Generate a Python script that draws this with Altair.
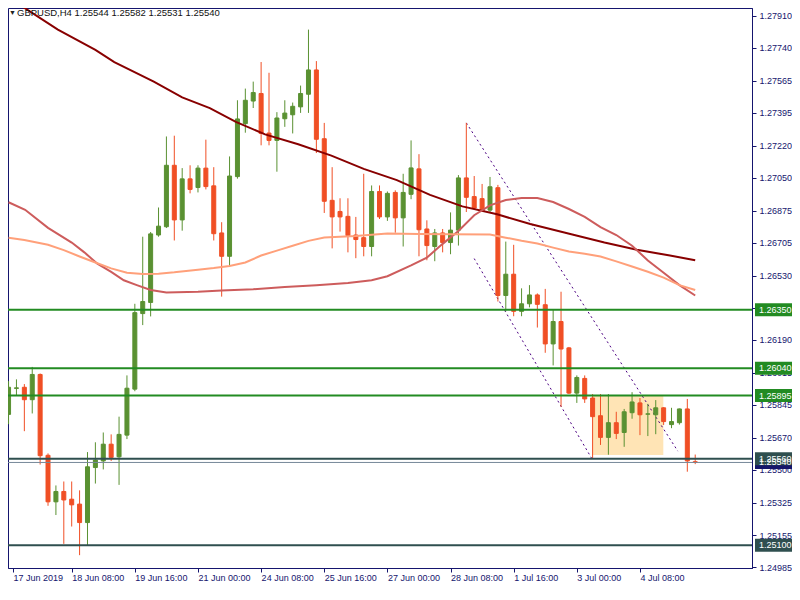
import altair as alt
import pandas as pd

# ---------------- data ----------------
bar_index = list(range(88))  # H4 bars, 0 = 17 Jun 2019 00:00
opens = [1.25795, 1.25933, 1.25939, 1.25873, 1.26007, 1.25578, 1.25331, 1.25386, 1.25345, 1.25319,
         1.25221, 1.25513, 1.25548, 1.25637, 1.25570, 1.25685, 1.25929, 1.26330, 1.26389, 1.26747,
         1.26791, 1.27117, 1.26827, 1.27045, 1.26999, 1.27102, 1.27008, 1.26758, 1.26634, 1.27057,
         1.27338, 1.27458, 1.27498, 1.27288, 1.27249, 1.27364, 1.27385, 1.27427, 1.27494, 1.27623,
         1.27258, 1.26931, 1.26872, 1.26846, 1.26747, 1.26733, 1.26686, 1.26978, 1.26843, 1.26973,
         1.26838, 1.26963, 1.27098, 1.26779, 1.26686, 1.26758, 1.26707, 1.26773, 1.27050, 1.26951,
         1.26940, 1.26879, 1.26998, 1.26426, 1.26539, 1.26342, 1.26382, 1.26429, 1.26377, 1.26169,
         1.26288, 1.26148, 1.25908, 1.25986, 1.25882, 1.25788, 1.25673, 1.25751, 1.25699, 1.25804,
         1.25856, 1.25796, 1.25793, 1.25830, 1.25741, 1.25751, 1.25824, 1.25544]
highs = [1.25972, 1.25981, 1.25956, 1.26047, 1.26012, 1.25588, 1.25418, 1.25439, 1.25439, 1.25392,
         1.25595, 1.25647, 1.25699, 1.25689, 1.25783, 1.26002, 1.26382, 1.26738, 1.26763, 1.26893,
         1.27270, 1.27274, 1.27102, 1.27117, 1.27117, 1.27253, 1.27107, 1.26815, 1.27164, 1.27462,
         1.27524, 1.27561, 1.27665, 1.27608, 1.27399, 1.27462, 1.27450, 1.27540, 1.27837, 1.27670,
         1.27342, 1.27107, 1.26942, 1.26942, 1.26843, 1.27072, 1.27010, 1.27010, 1.26978, 1.26984,
         1.27072, 1.27249, 1.27176, 1.26825, 1.26779, 1.26779, 1.26867, 1.27065, 1.27342, 1.27060,
         1.27018, 1.27055, 1.27013, 1.26712, 1.26695, 1.26464, 1.26481, 1.26437, 1.26461, 1.26354,
         1.26446, 1.26153, 1.26002, 1.26002, 1.25903, 1.25903, 1.25903, 1.25809, 1.25824, 1.25913,
         1.25882, 1.25851, 1.25871, 1.25833, 1.25830, 1.25826, 1.25877, 1.25582]
lows = [1.25743, 1.25894, 1.25706, 1.25800, 1.25529, 1.25310, 1.25261, 1.25108, 1.25200, 1.25048,
        1.25100, 1.25428, 1.25503, 1.25548, 1.25421, 1.25664, 1.25918, 1.26269, 1.26315, 1.26738,
        1.26784, 1.26718, 1.26770, 1.26968, 1.26973, 1.26989, 1.26718, 1.26420, 1.26582, 1.27046,
        1.27290, 1.27421, 1.27223, 1.27223, 1.27083, 1.27321, 1.27286, 1.27395, 1.27395, 1.27182,
        1.26864, 1.26676, 1.26765, 1.26655, 1.26624, 1.26634, 1.26634, 1.26832, 1.26822, 1.26759,
        1.26686, 1.26937, 1.26634, 1.26613, 1.26608, 1.26655, 1.26645, 1.26691, 1.26869, 1.26884,
        1.26869, 1.26869, 1.26394, 1.26342, 1.26316, 1.26316, 1.26363, 1.26256, 1.26122, 1.26055,
        1.25835, 1.25903, 1.25856, 1.25856, 1.25560, 1.25633, 1.25581, 1.25664, 1.25623, 1.25772,
        1.25685, 1.25680, 1.25690, 1.25739, 1.25722, 1.25741, 1.25491, 1.25531]
closes = [1.25939, 1.25936, 1.25873, 1.26007, 1.25576, 1.25331, 1.25386, 1.25341, 1.25315, 1.25221,
          1.25517, 1.25553, 1.25637, 1.25567, 1.25689, 1.25934, 1.26335, 1.26394, 1.26753, 1.26794,
          1.27117, 1.26827, 1.27045, 1.26989, 1.27102, 1.27004, 1.26754, 1.26634, 1.27060, 1.27363,
          1.27462, 1.27503, 1.27286, 1.27249, 1.27368, 1.27394, 1.27430, 1.27498, 1.27623, 1.27255,
          1.26926, 1.26843, 1.26843, 1.26744, 1.26723, 1.26686, 1.26978, 1.26843, 1.26968, 1.26838,
          1.26973, 1.27103, 1.26775, 1.26691, 1.26758, 1.26707, 1.26773, 1.27050, 1.26947, 1.26890,
          1.26874, 1.27003, 1.26426, 1.26539, 1.26342, 1.26382, 1.26429, 1.26379, 1.26169, 1.26288,
          1.26142, 1.25908, 1.25991, 1.25877, 1.25783, 1.25673, 1.25751, 1.25694, 1.25809, 1.25861,
          1.25793, 1.25798, 1.25830, 1.25757, 1.25757, 1.25824, 1.25548, 1.25540]

# x-axis: one label every 8 bars
tick_bars = [0, 8, 16, 24, 32, 40, 48, 56, 64, 72, 80]
tick_labels = ["17 Jun 2019", "18 Jun 08:00", "19 Jun 16:00", "21 Jun 00:00", "24 Jun 08:00",
               "25 Jun 16:00", "27 Jun 00:00", "28 Jun 08:00", "1 Jul 16:00", "3 Jul 00:00",
               "4 Jul 08:00"]
# y-axis ticks
price_ticks = [1.27910, 1.27740, 1.27565, 1.27395, 1.27220, 1.27050, 1.26875, 1.26705, 1.26530,
               1.26360, 1.26190, 1.26015, 1.25845, 1.25670, 1.25500, 1.25325, 1.25155, 1.24985]

# moving averages (bar index, price)
ma_slow_idx = [0, 1.25, 6.25, 11, 13.4, 18.4, 22, 25.5, 28.8, 32.5, 36.7, 40.9, 45, 49.2, 53.4,
               57.5, 61.9, 66.1, 71.3, 75.5, 79.6, 83.8, 87]
ma_slow_val = [1.28004, 1.27973, 1.27837, 1.27729, 1.27665, 1.27561, 1.27477, 1.27420, 1.27347,
               1.27281, 1.27229, 1.27168, 1.27098, 1.27038, 1.26960, 1.26899, 1.26857, 1.26805,
               1.26751, 1.26707, 1.26669, 1.26638, 1.26613]
ma_mid_idx = [0, 2.1, 5, 8, 9.6, 11.25, 13, 14.6, 16.25, 18, 20, 24, 27, 31, 35, 39, 43, 46, 48,
              51, 53, 55, 57, 59, 61, 63, 65, 67, 69, 71, 73, 75, 77, 79, 81, 83, 85, 87]
ma_mid_val = [1.26921, 1.26881, 1.26785, 1.26707, 1.26655, 1.26595, 1.26551, 1.26507, 1.26481,
              1.26455, 1.26442, 1.26446, 1.26453, 1.26459, 1.26471, 1.26481, 1.26492, 1.26507,
              1.26528, 1.26586, 1.26627, 1.26700, 1.26768, 1.26852, 1.26904, 1.26933, 1.26944,
              1.26943, 1.26922, 1.26885, 1.26843, 1.26789, 1.26747, 1.26690, 1.26612, 1.26547,
              1.26481, 1.26426]
ma_fast_idx = [0, 2, 5, 7, 9, 11, 13, 15, 17, 19, 21, 24, 26, 28, 30, 32, 34, 36, 38, 40, 44, 48,
               52, 56, 61, 63, 65, 67, 69, 71, 73, 75, 77, 79, 81, 83, 85, 87]
ma_fast_val = [1.26733, 1.26721, 1.26695, 1.26667, 1.26633, 1.26601, 1.26570, 1.26547, 1.26540,
               1.26542, 1.26549, 1.26563, 1.26572, 1.26583, 1.26601, 1.26638, 1.26664, 1.26690,
               1.26716, 1.26734, 1.26742, 1.26755, 1.26753, 1.26751, 1.26750, 1.26733, 1.26716,
               1.26702, 1.26680, 1.26659, 1.26648, 1.26633, 1.26607, 1.26580, 1.26552, 1.26521,
               1.26481, 1.26455]

# horizontal levels
level_values = [1.26350, 1.26040, 1.25895, 1.25560, 1.25100]
level_kinds = ["green", "green", "green", "slate", "slate"]
bid_price = 1.25540

# trend channel (dotted)
trend_names = ["upper", "upper", "lower", "lower"]
trend_idx = [58, 84.8, 59, 73.85]
trend_val = [1.27342, 1.25600, 1.26622, 1.25564]

# consolidation rectangle
rect_idx = [73.96, 82.96]
rect_val = [1.25895, 1.25580]

header = "GBPUSD,H4  1.25544 1.25582 1.25531 1.25540"

# ---------------- styling ----------------
UP, DOWN = "#5A9132", "#F04F25"
NAVY = "#15156E"
FONT = "Liberation Sans"
FS = 9
KIND_COLORS = {"green": "#228B22", "slate": "#2F4F4F", "bid": "#16166A"}
W, H = 744, 560

XS = alt.Scale(domain=[0.5625, 93.5625], nice=False, zero=False)
YS = alt.Scale(domain=[1.249799, 1.279517], nice=False, zero=False)

label_arr = "[" + ",".join("'%s'" % t for t in tick_labels) + "]"
X_AXIS = alt.Axis(values=[0.5625] + tick_bars[1:], labelExpr=label_arr + "[round(datum.value / 8)]",
                  orient="bottom", grid=False, domainColor=NAVY, tickColor=NAVY, tickSize=4,
                  labelAlign="left", labelBaseline="top", labelPadding=1, labelFont=FONT,
                  labelFontSize=FS, labelColor=NAVY, labelFlush=False, labelOverlap=False,
                  title=None)
Y_AXIS = alt.Axis(values=price_ticks, format=".5f", orient="right", grid=False, domainColor=NAVY,
                  tickColor=NAVY, tickSize=4, labelPadding=3, labelBaseline="middle",
                  labelFont=FONT, labelFontSize=FS, labelColor=NAVY, labelFlush=False,
                  labelOverlap=False, title=None)


def X(field):
    return alt.X(field, type="quantitative", scale=XS, axis=X_AXIS, title=None)


def Y(field):
    return alt.Y(field, type="quantitative", scale=YS, axis=Y_AXIS, title=None)


candles = pd.DataFrame({"i": bar_index, "open": opens, "high": highs, "low": lows, "close": closes})
candles["dir"] = ["up" if c >= o else "down" for o, c in zip(opens, closes)]
dir_scale = alt.Scale(domain=["up", "down"], range=[UP, DOWN])

mas = pd.concat([
    pd.DataFrame({"i": ma_slow_idx, "v": ma_slow_val, "col": "#880000"}),
    pd.DataFrame({"i": ma_mid_idx, "v": ma_mid_val, "col": "#CD5C5C"}),
    pd.DataFrame({"i": ma_fast_idx, "v": ma_fast_val, "col": "#FFA07A"}),
])
levels = pd.DataFrame({"v": level_values, "col": [KIND_COLORS[k] for k in level_kinds]})
bid = pd.DataFrame({"v": [bid_price]})
boxes = pd.DataFrame({"v": [bid_price] + level_values,
                      "col": [KIND_COLORS["bid"]] + [KIND_COLORS[k] for k in level_kinds]})
boxes["txt"] = ["%.5f" % v for v in boxes["v"]]
trend = pd.DataFrame({"name": trend_names, "i": trend_idx, "v": trend_val})
rect = pd.DataFrame({"i": [rect_idx[0]], "i2": [rect_idx[1]], "v": [rect_val[0]], "v2": [rect_val[1]]})
head = pd.DataFrame({"t": [header]})

rect_layer = alt.Chart(rect).mark_rect(color="#FFE4B5", clip=True).encode(
    x=X("i"), x2="i2", y=Y("v"), y2="v2")

wicks = alt.Chart(candles).mark_rule(strokeWidth=1, clip=True).encode(
    x=X("i"), y=Y("low"), y2="high",
    color=alt.Color("dir:N", scale=dir_scale, legend=None))

bodies = alt.Chart(candles).mark_bar(size=4, strokeWidth=1, clip=True).encode(
    x=X("i"), y=Y("open"), y2="close",
    color=alt.Color("dir:N", scale=dir_scale, legend=None),
    stroke=alt.Stroke("dir:N", scale=dir_scale, legend=None))

trend_layer = alt.Chart(trend).mark_line(color="#4B0082", strokeWidth=1, strokeDash=[2, 3],
                                         clip=True).encode(
    x=X("i"), y=Y("v"), detail="name:N")

ma_layer = alt.Chart(mas).mark_line(strokeWidth=2, clip=True).encode(
    x=X("i"), y=Y("v"), color=alt.Color("col:N", scale=None))

level_layer = alt.Chart(levels).mark_rule(strokeWidth=2, clip=True).encode(
    y=Y("v"), color=alt.Color("col:N", scale=None))

bid_layer = alt.Chart(bid).mark_rule(strokeWidth=1, color="#778899", clip=True).encode(y=Y("v"))

box_layer = alt.Chart(boxes).mark_rule(strokeWidth=13, strokeCap="butt").encode(
    y=Y("v"), x=alt.value(747), x2=alt.value(784), color=alt.Color("col:N", scale=None))

box_text = alt.Chart(boxes).mark_text(align="left", baseline="middle", font=FONT, fontSize=FS,
                                      color="white").encode(
    y=Y("v"), x=alt.value(751), text="txt:N")

tri = alt.Chart(head).mark_text(text="\u25BC", align="left", baseline="middle", fontSize=7,
                                color="#222222").encode(x=alt.value(1), y=alt.value(4.5))
head_text = alt.Chart(head).mark_text(align="left", baseline="middle", font=FONT, fontSize=9.5,
                                      color="#111111").encode(
    x=alt.value(9), y=alt.value(4.5), text="t:N")

chart = alt.layer(rect_layer, trend_layer, wicks, bodies, ma_layer, level_layer, bid_layer,
                  box_layer, box_text, tri, head_text).properties(
    width=W, height=H, background="white",
    autosize=alt.AutoSizeParams(type="none"),
    padding={"left": 0, "top": 0, "right": 40, "bottom": 18},
).configure_view(stroke=NAVY, strokeWidth=1)

chart.save("out.html", embed_options={"renderer": "svg", "actions": False})
